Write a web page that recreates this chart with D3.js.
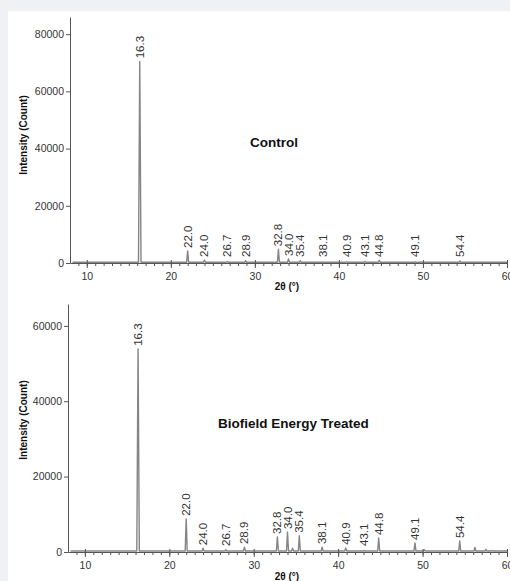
<!DOCTYPE html>
<html>
<head>
<meta charset="utf-8">
<script src="https://cdn.jsdelivr.net/npm/d3@7"></script>
<style>
  body { margin: 0; background: #eff1f4; }
  svg { display: block; font-family: "Liberation Sans", Arial, sans-serif; }
</style>
</head>
<body>
<svg id="xrd_svg" width="510" height="581"></svg>
<script>
// peak positions (2θ, degrees) and labelled intensities
const peakTheta = [16.3, 22.0, 24.0, 26.7, 28.9, 32.8, 34.0, 35.4, 38.1, 40.9, 43.1, 44.8, 49.1, 54.4]
const controlCounts = [70500, 4200, 1000, 500, 800, 4800, 1400, 800, 400, 400, 500, 900, 400, 700]
const treatedCounts = [53900, 8800, 1000, 600, 1300, 4000, 5300, 4300, 1300, 1100, 400, 3700, 2400, 2900]

// small unlabelled reflections
const controlMinorTheta = [49.8, 50.3, 57.5, 58.3]
const controlMinorCounts = [400, 300, 300, 300]
const treatedMinorTheta = [34.6, 50.2, 56.2, 57.5, 58.3]
const treatedMinorCounts = [1000, 600, 1200, 700, 400]

const xTicks = [10, 20, 30, 40, 50, 60]
const controlYTicks = [0, 20000, 40000, 60000, 80000]
const treatedYTicks = [0, 20000, 40000, 60000]
const baseCount = 250

const svg = d3.select("#xrd_svg")

svg.append("rect")
  .attr("x", 8).attr("y", 11)
  .attr("width", 502).attr("height", 570)
  .attr("fill", "#ffffff")

function draw_pattern(opts) {
  const g = svg.append("g")

  const xScale = d3.scaleLinear().domain([8, 60]).range([opts.left, 507])
  const yScale = d3.scaleLinear().domain([0, opts.yMax]).range([opts.base, opts.top])

  // build the trace as narrow spikes on a flat background
  let peaks = opts.theta.map((t, i) => ({ t: t, c: opts.counts[i] }))
    .concat(opts.minorTheta.map((t, i) => ({ t: t, c: opts.minorCounts[i] })))
    .sort((a, b) => a.t - b.t)

  let pts = [[8.3, baseCount]]
  peaks.forEach((p) => {
    let hw = p.c > 20000 ? 0.15 : 0.12
    pts.push([p.t - hw, baseCount], [p.t, p.c], [p.t + hw, baseCount])
  })
  pts.push([60, baseCount])

  const line = d3.line()
    .x((d) => xScale(d[0]))
    .y((d) => yScale(d[1]))

  g.append("path")
    .attr("d", line(pts))
    .attr("fill", "none")
    .attr("stroke", "#858585")
    .attr("stroke-width", 1.4)
    .attr("stroke-linejoin", "round")

  /**
   * axes
   */
  let x_minor = d3.axisBottom(xScale)
    .tickValues(d3.range(9, 60))
    .tickSize(3)
    .tickFormat("")
  let x_axis = d3.axisBottom(xScale)
    .tickValues(xTicks)
    .tickSizeInner(5)
    .tickSizeOuter(0)
    .tickPadding(5)
    .tickFormat(d3.format("d"))
  let y_axis = d3.axisLeft(yScale)
    .tickValues(opts.yTicks)
    .tickSizeInner(4)
    .tickSizeOuter(0)
    .tickPadding(2)
    .tickFormat(d3.format("d"))

  g.append("g")
    .attr("transform", "translate(0," + opts.base + ")")
    .call(x_minor)
    .call((a) => a.select(".domain").remove())

  let gx = g.append("g")
    .attr("transform", "translate(0," + opts.base + ")")
    .call(x_axis)
  gx.selectAll(".tick line").attr("y1", -3)

  let gy = g.append("g")
    .attr("transform", "translate(" + opts.left + ",0)")
    .call(y_axis)

  g.selectAll(".domain, .tick line").attr("stroke", "#555")
  g.selectAll(".tick text")
    .attr("font-size", 10.5)
    .attr("font-family", "Liberation Sans, Arial, sans-serif")
    .attr("fill", "#333")

  /**
   * peak labels, rotated
   */
  g.selectAll(".peak_label")
    .data(opts.theta)
    .enter()
    .append("text")
    .attr("class", "peak_label")
    .attr("transform", (d, i) => {
      let y = Math.min(yScale(opts.counts[i]) - 3, opts.base - 6)
      return "translate(" + xScale(d) + "," + y + ") rotate(-90)"
    })
    .attr("dy", "0.35em")
    .attr("font-size", 11.5)
    .attr("fill", "#333")
    .text((d) => d.toFixed(1))

  // titles
  g.append("text")
    .attr("x", opts.titleX)
    .attr("y", opts.titleY)
    .attr("font-size", 13.5)
    .attr("font-weight", "bold")
    .attr("fill", "#111")
    .text(opts.title)

  g.append("text")
    .attr("transform", "translate(27," + opts.yLabelY + ") rotate(-90)")
    .attr("text-anchor", "middle")
    .attr("font-size", 10)
    .attr("font-weight", "bold")
    .attr("fill", "#111")
    .text("Intensity (Count)")

  g.append("text")
    .attr("x", 287)
    .attr("y", opts.xLabelY)
    .attr("text-anchor", "middle")
    .attr("font-size", 10)
    .attr("font-weight", "bold")
    .attr("fill", "#111")
    .text("2θ (°)")
}

draw_pattern({
  left: 70, base: 263, top: 17, yMax: 86000,
  theta: peakTheta, counts: controlCounts,
  minorTheta: controlMinorTheta, minorCounts: controlMinorCounts,
  yTicks: controlYTicks,
  title: "Control", titleX: 250, titleY: 147,
  yLabelY: 135, xLabelY: 290,
})

draw_pattern({
  left: 68, base: 552, top: 304, yMax: 65800,
  theta: peakTheta, counts: treatedCounts,
  minorTheta: treatedMinorTheta, minorCounts: treatedMinorCounts,
  yTicks: treatedYTicks,
  title: "Biofield Energy Treated", titleX: 218, titleY: 428,
  yLabelY: 420, xLabelY: 580,
})
</script>
</body>
</html>
